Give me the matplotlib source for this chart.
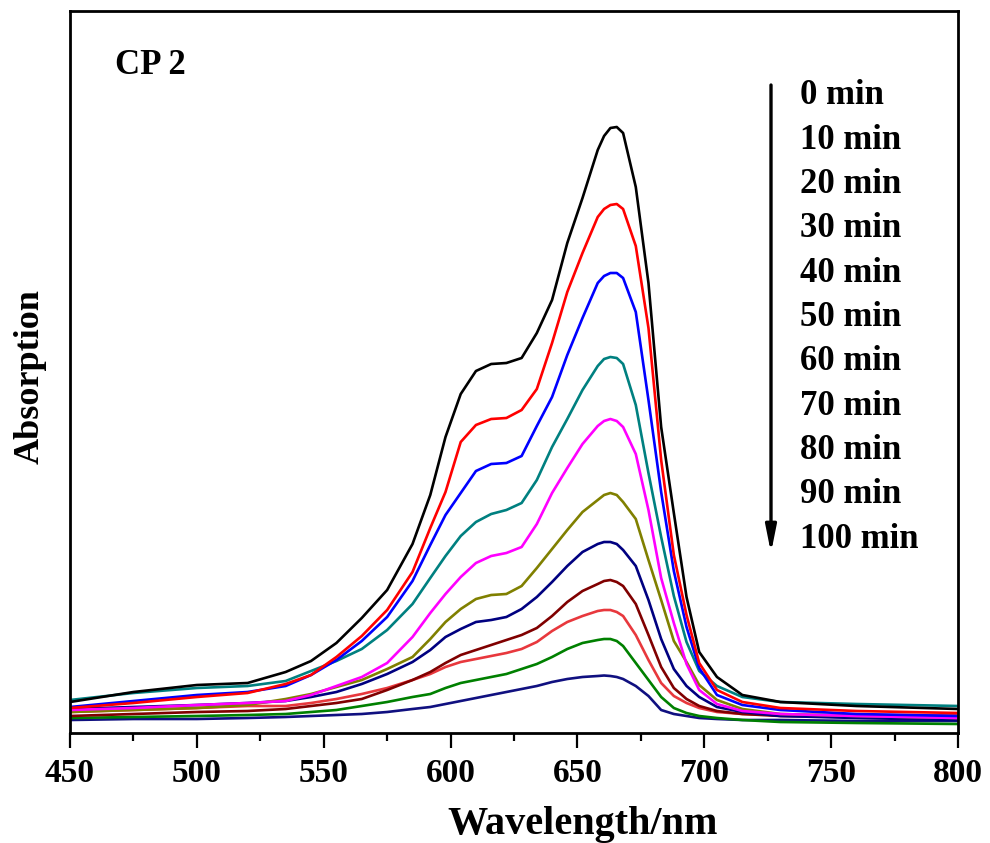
import matplotlib
matplotlib.use("Agg")
import matplotlib.pyplot as plt
from matplotlib.ticker import MultipleLocator, NullLocator

plt.rcParams['font.family'] = ['Liberation Serif', 'DejaVu Serif']
plt.rcParams['font.weight'] = 'bold'

wavelength = [450, 475, 500, 520, 535, 545, 555, 565, 575, 585, 592, 598, 604, 610, 616,
              622, 628, 634, 640, 646, 652, 658, 660.5, 663, 665.5, 668, 673, 678, 683, 688,
              693, 698, 705, 715, 730, 760, 800]

a_0 = [0.062, 0.082, 0.096, 0.100, 0.122, 0.144, 0.180, 0.230, 0.286, 0.378, 0.476, 0.592,
       0.678, 0.724, 0.738, 0.740, 0.750, 0.800, 0.866, 0.980, 1.070, 1.166, 1.194, 1.210,
       1.212, 1.200, 1.092, 0.900, 0.612, 0.440, 0.272, 0.162, 0.112, 0.076, 0.062, 0.054,
       0.048]
a_10 = [0.050, 0.060, 0.072, 0.080, 0.098, 0.116, 0.152, 0.194, 0.246, 0.322, 0.410, 0.482,
        0.582, 0.616, 0.628, 0.630, 0.646, 0.688, 0.780, 0.882, 0.960, 1.032, 1.048, 1.056,
        1.058, 1.048, 0.974, 0.810, 0.546, 0.356, 0.236, 0.140, 0.086, 0.062, 0.050, 0.044,
        0.040]
a_20 = [0.052, 0.064, 0.076, 0.082, 0.094, 0.116, 0.146, 0.184, 0.232, 0.304, 0.376, 0.436,
        0.480, 0.524, 0.538, 0.540, 0.554, 0.614, 0.672, 0.756, 0.830, 0.900, 0.914, 0.920,
        0.920, 0.910, 0.842, 0.666, 0.482, 0.324, 0.212, 0.130, 0.076, 0.056, 0.046, 0.038,
        0.034]
a_30 = [0.066, 0.080, 0.090, 0.094, 0.104, 0.124, 0.144, 0.168, 0.206, 0.258, 0.310, 0.354,
        0.394, 0.422, 0.438, 0.446, 0.460, 0.506, 0.572, 0.628, 0.686, 0.734, 0.748, 0.752,
        0.750, 0.738, 0.656, 0.520, 0.392, 0.274, 0.182, 0.124, 0.094, 0.072, 0.062, 0.058,
        0.054]
a_40 = [0.046, 0.050, 0.056, 0.060, 0.064, 0.076, 0.094, 0.112, 0.140, 0.192, 0.240, 0.278,
        0.312, 0.340, 0.354, 0.360, 0.372, 0.418, 0.480, 0.530, 0.578, 0.614, 0.624, 0.628,
        0.624, 0.612, 0.558, 0.446, 0.310, 0.220, 0.138, 0.086, 0.058, 0.044, 0.038, 0.034,
        0.030]
a_50 = [0.042, 0.046, 0.050, 0.056, 0.068, 0.078, 0.092, 0.106, 0.128, 0.152, 0.188, 0.222,
        0.248, 0.268, 0.276, 0.278, 0.294, 0.330, 0.368, 0.406, 0.442, 0.466, 0.476, 0.480,
        0.476, 0.462, 0.428, 0.346, 0.266, 0.184, 0.142, 0.096, 0.066, 0.048, 0.038, 0.034,
        0.030]
a_60 = [0.048, 0.052, 0.056, 0.060, 0.064, 0.072, 0.082, 0.098, 0.118, 0.142, 0.166, 0.192,
        0.208, 0.222, 0.226, 0.232, 0.248, 0.272, 0.302, 0.334, 0.362, 0.378, 0.382, 0.382,
        0.378, 0.366, 0.334, 0.266, 0.188, 0.128, 0.094, 0.072, 0.052, 0.042, 0.034, 0.030,
        0.026]
a_70 = [0.034, 0.038, 0.042, 0.044, 0.048, 0.054, 0.060, 0.068, 0.086, 0.106, 0.122, 0.140,
        0.156, 0.166, 0.176, 0.186, 0.196, 0.210, 0.234, 0.262, 0.284, 0.298, 0.304, 0.306,
        0.302, 0.294, 0.258, 0.196, 0.132, 0.090, 0.068, 0.054, 0.044, 0.038, 0.034, 0.032,
        0.032]
a_80 = [0.042, 0.046, 0.050, 0.054, 0.054, 0.060, 0.068, 0.078, 0.090, 0.106, 0.118, 0.132,
        0.142, 0.148, 0.154, 0.160, 0.168, 0.182, 0.204, 0.222, 0.234, 0.244, 0.246, 0.246,
        0.242, 0.234, 0.196, 0.146, 0.100, 0.074, 0.060, 0.050, 0.042, 0.038, 0.036, 0.036,
        0.036]
a_90 = [0.030, 0.032, 0.034, 0.036, 0.038, 0.042, 0.046, 0.054, 0.062, 0.072, 0.078, 0.090,
        0.100, 0.106, 0.112, 0.118, 0.128, 0.138, 0.152, 0.168, 0.180, 0.186, 0.188, 0.188,
        0.184, 0.174, 0.140, 0.106, 0.072, 0.050, 0.040, 0.034, 0.030, 0.026, 0.022, 0.020,
        0.018]
a_100 = [0.026, 0.028, 0.028, 0.030, 0.032, 0.034, 0.036, 0.038, 0.042, 0.048, 0.052, 0.058,
         0.064, 0.070, 0.076, 0.082, 0.088, 0.094, 0.102, 0.108, 0.112, 0.114, 0.115, 0.114,
         0.112, 0.108, 0.094, 0.074, 0.046, 0.038, 0.034, 0.030, 0.028, 0.026, 0.026, 0.024,
         0.024]

series = [a_0, a_10, a_20, a_30, a_40, a_50, a_60, a_70, a_80, a_90, a_100]
labels = ['0 min', '10 min', '20 min', '30 min', '40 min', '50 min', '60 min',
          '70 min', '80 min', '90 min', '100 min']
colors = ['#000000', '#FF0000', '#0000FF', '#008080', '#FF00FF', '#808000',
          '#000080', '#800000', '#E8383D', '#008000', '#101080']

W, H = 990, 843
fig = plt.figure(figsize=(W / 100, H / 100), dpi=100)
L, R, T, B = 70, 958, 11, 733
ax = fig.add_axes([L / W, 1 - B / H, (R - L) / W, (B - T) / H])

# draw lower series first so the top ones overlay them
for y, c in reversed(list(zip(series, colors))):
    ax.plot(wavelength, y, color=c, lw=1.9, solid_joinstyle='round',
            solid_capstyle='round')

ax.set_xlim(450, 800)
ax.set_ylim(0, 1.444)
ax.xaxis.set_major_locator(MultipleLocator(50))
ax.xaxis.set_minor_locator(MultipleLocator(25))
ax.yaxis.set_major_locator(NullLocator())
ax.yaxis.set_minor_locator(NullLocator())
ax.tick_params(axis='x', which='major', direction='out', length=10.8, width=1.6,
               labelsize=24, pad=7)
ax.tick_params(axis='x', which='minor', direction='out', length=5.8, width=1.6)
for lab in ax.get_xticklabels():
    lab.set_fontweight('bold')
for s in ax.spines.values():
    s.set_linewidth(2.0)

fig.text(583 / W, 1 - 834 / H, 'Wavelength/nm', ha='center', va='baseline',
         fontsize=29, fontweight='bold')
fig.text(30 / W, 1 - 377 / H, 'Absorption', ha='center', va='center', rotation=90,
         fontsize=26, fontweight='bold')

ax.text((115 - L) / (R - L), (B - 65) / (B - T), 'CP 2', transform=ax.transAxes,
        ha='left', va='center', fontsize=25, fontweight='bold')

for i, lab in enumerate(labels):
    yy = 96 + 44.3 * i
    ax.text((800 - L) / (R - L), (B - yy) / (B - T), lab, transform=ax.transAxes,
            ha='left', va='center', fontsize=25, fontweight='bold')

ax.annotate('', xy=((771 - L) / (R - L), (B - 553) / (B - T)),
            xytext=((771 - L) / (R - L), (B - 85) / (B - T)),
            xycoords='axes fraction', textcoords='axes fraction',
            arrowprops=dict(arrowstyle='-|>,head_length=1.6,head_width=0.32',
                            color='black', lw=2.4, shrinkA=0, shrinkB=0))

fig.savefig('out.png', dpi=100)
